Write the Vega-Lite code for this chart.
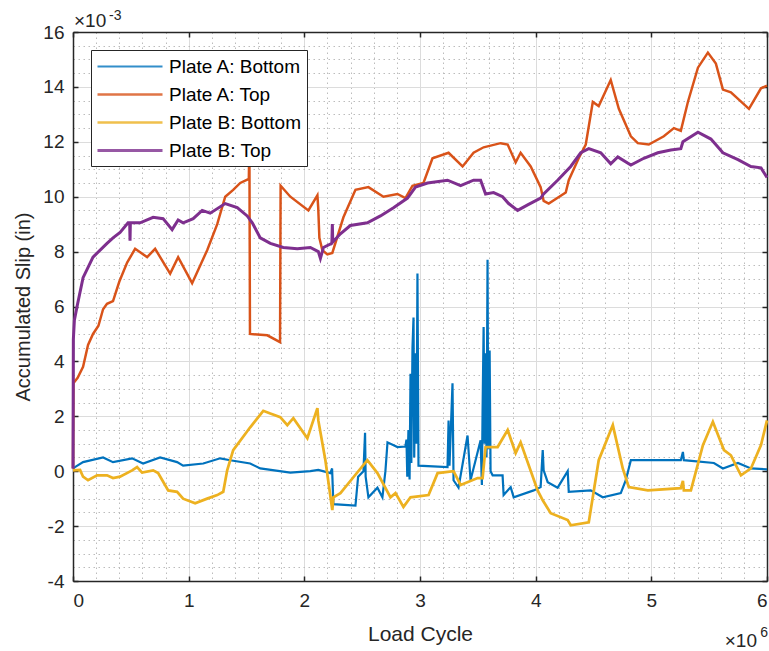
{
  "$schema": "https://vega.github.io/schema/vega-lite/v6.json",
  "width": 694,
  "height": 549,
  "autosize": {"type": "none"},
  "padding": {"left": 73, "top": 32, "right": 2, "bottom": 70},
  "background": "white",
  "config": {
    "view": {"stroke": null},
    "font": "Liberation Sans",
    "axis": {"labelFont": "Liberation Sans", "titleFont": "Liberation Sans", "labelColor": "#262626", "titleColor": "#262626", "titleFontWeight": "normal"}
  },
  "datasets": {
    "slip": [
      {"s": "Plate A: Bottom", "c": 0, "v": 0.1e-3},
      {"s": "Plate A: Bottom", "c": 0.017e6, "v": 0.15e-3},
      {"s": "Plate A: Bottom", "c": 0.087e6, "v": 0.33e-3},
      {"s": "Plate A: Bottom", "c": 0.26e6, "v": 0.5e-3},
      {"s": "Plate A: Bottom", "c": 0.346e6, "v": 0.33e-3},
      {"s": "Plate A: Bottom", "c": 0.511e6, "v": 0.47e-3},
      {"s": "Plate A: Bottom", "c": 0.606e6, "v": 0.28e-3},
      {"s": "Plate A: Bottom", "c": 0.753e6, "v": 0.5e-3},
      {"s": "Plate A: Bottom", "c": 0.9e6, "v": 0.33e-3},
      {"s": "Plate A: Bottom", "c": 0.952e6, "v": 0.2e-3},
      {"s": "Plate A: Bottom", "c": 1.126e6, "v": 0.28e-3},
      {"s": "Plate A: Bottom", "c": 1.273e6, "v": 0.47e-3},
      {"s": "Plate A: Bottom", "c": 1.359e6, "v": 0.4e-3},
      {"s": "Plate A: Bottom", "c": 1.532e6, "v": 0.28e-3},
      {"s": "Plate A: Bottom", "c": 1.619e6, "v": 0.1e-3},
      {"s": "Plate A: Bottom", "c": 1.879e6, "v": -0.05e-3},
      {"s": "Plate A: Bottom", "c": 2.052e6, "v": 0.0},
      {"s": "Plate A: Bottom", "c": 2.121e6, "v": 0.05e-3},
      {"s": "Plate A: Bottom", "c": 2.225e6, "v": -0.07e-3},
      {"s": "Plate A: Bottom", "c": 2.24e6, "v": 0.1e-3},
      {"s": "Plate A: Bottom", "c": 2.251e6, "v": -1.2e-3},
      {"s": "Plate A: Bottom", "c": 2.442e6, "v": -1.25e-3},
      {"s": "Plate A: Bottom", "c": 2.465e6, "v": -0.2e-3},
      {"s": "Plate A: Bottom", "c": 2.511e6, "v": 0.0},
      {"s": "Plate A: Bottom", "c": 2.525e6, "v": 1.4e-3},
      {"s": "Plate A: Bottom", "c": 2.53e6, "v": -0.2e-3},
      {"s": "Plate A: Bottom", "c": 2.554e6, "v": -0.95e-3},
      {"s": "Plate A: Bottom", "c": 2.632e6, "v": -0.6e-3},
      {"s": "Plate A: Bottom", "c": 2.675e6, "v": -0.95e-3},
      {"s": "Plate A: Bottom", "c": 2.701e6, "v": 0.0},
      {"s": "Plate A: Bottom", "c": 2.719e6, "v": 1.05e-3},
      {"s": "Plate A: Bottom", "c": 2.805e6, "v": 0.88e-3},
      {"s": "Plate A: Bottom", "c": 2.874e6, "v": 0.9e-3},
      {"s": "Plate A: Bottom", "c": 2.883e6, "v": 1.15e-3},
      {"s": "Plate A: Bottom", "c": 2.89e6, "v": -0.2e-3},
      {"s": "Plate A: Bottom", "c": 2.9e6, "v": 1.5e-3},
      {"s": "Plate A: Bottom", "c": 2.91e6, "v": -0.3e-3},
      {"s": "Plate A: Bottom", "c": 2.918e6, "v": 3.55e-3},
      {"s": "Plate A: Bottom", "c": 2.925e6, "v": 0.3e-3},
      {"s": "Plate A: Bottom", "c": 2.935e6, "v": 4.5e-3},
      {"s": "Plate A: Bottom", "c": 2.944e6, "v": 5.6e-3},
      {"s": "Plate A: Bottom", "c": 2.95e6, "v": 0.5e-3},
      {"s": "Plate A: Bottom", "c": 2.961e6, "v": 4.3e-3},
      {"s": "Plate A: Bottom", "c": 2.97e6, "v": 1.0e-3},
      {"s": "Plate A: Bottom", "c": 2.978e6, "v": 7.2e-3},
      {"s": "Plate A: Bottom", "c": 2.987e6, "v": 0.2e-3},
      {"s": "Plate A: Bottom", "c": 3.238e6, "v": 0.15e-3},
      {"s": "Plate A: Bottom", "c": 3.247e6, "v": 1.85e-3},
      {"s": "Plate A: Bottom", "c": 3.255e6, "v": 0.2e-3},
      {"s": "Plate A: Bottom", "c": 3.281e6, "v": 3.2e-3},
      {"s": "Plate A: Bottom", "c": 3.29e6, "v": -0.33e-3},
      {"s": "Plate A: Bottom", "c": 3.333e6, "v": -0.6e-3},
      {"s": "Plate A: Bottom", "c": 3.411e6, "v": 1.3e-3},
      {"s": "Plate A: Bottom", "c": 3.437e6, "v": -0.33e-3},
      {"s": "Plate A: Bottom", "c": 3.524e6, "v": 1.13e-3},
      {"s": "Plate A: Bottom", "c": 3.535e6, "v": -0.5e-3},
      {"s": "Plate A: Bottom", "c": 3.541e6, "v": 2.2e-3},
      {"s": "Plate A: Bottom", "c": 3.55e6, "v": 5.25e-3},
      {"s": "Plate A: Bottom", "c": 3.558e6, "v": 1.0e-3},
      {"s": "Plate A: Bottom", "c": 3.567e6, "v": 4.3e-3},
      {"s": "Plate A: Bottom", "c": 3.575e6, "v": 0.5e-3},
      {"s": "Plate A: Bottom", "c": 3.584e6, "v": 7.7e-3},
      {"s": "Plate A: Bottom", "c": 3.59e6, "v": 0.8e-3},
      {"s": "Plate A: Bottom", "c": 3.602e6, "v": 4.4e-3},
      {"s": "Plate A: Bottom", "c": 3.61e6, "v": 0.0},
      {"s": "Plate A: Bottom", "c": 3.628e6, "v": -0.15e-3},
      {"s": "Plate A: Bottom", "c": 3.714e6, "v": -0.15e-3},
      {"s": "Plate A: Bottom", "c": 3.723e6, "v": -0.87e-3},
      {"s": "Plate A: Bottom", "c": 3.784e6, "v": -0.58e-3},
      {"s": "Plate A: Bottom", "c": 3.81e6, "v": -0.95e-3},
      {"s": "Plate A: Bottom", "c": 3.983e6, "v": -0.7e-3},
      {"s": "Plate A: Bottom", "c": 4.043e6, "v": -0.58e-3},
      {"s": "Plate A: Bottom", "c": 4.061e6, "v": 0.77e-3},
      {"s": "Plate A: Bottom", "c": 4.069e6, "v": 0.03e-3},
      {"s": "Plate A: Bottom", "c": 4.104e6, "v": -0.4e-3},
      {"s": "Plate A: Bottom", "c": 4.19e6, "v": -0.6e-3},
      {"s": "Plate A: Bottom", "c": 4.277e6, "v": 0.0},
      {"s": "Plate A: Bottom", "c": 4.286e6, "v": -0.75e-3},
      {"s": "Plate A: Bottom", "c": 4.476e6, "v": -0.7e-3},
      {"s": "Plate A: Bottom", "c": 4.58e6, "v": -0.95e-3},
      {"s": "Plate A: Bottom", "c": 4.736e6, "v": -0.8e-3},
      {"s": "Plate A: Bottom", "c": 4.779e6, "v": -0.33e-3},
      {"s": "Plate A: Bottom", "c": 4.823e6, "v": 0.4e-3},
      {"s": "Plate A: Bottom", "c": 5.255e6, "v": 0.4e-3},
      {"s": "Plate A: Bottom", "c": 5.273e6, "v": 0.7e-3},
      {"s": "Plate A: Bottom", "c": 5.281e6, "v": 0.4e-3},
      {"s": "Plate A: Bottom", "c": 5.541e6, "v": 0.3e-3},
      {"s": "Plate A: Bottom", "c": 5.619e6, "v": 0.1e-3},
      {"s": "Plate A: Bottom", "c": 5.749e6, "v": 0.3e-3},
      {"s": "Plate A: Bottom", "c": 5.861e6, "v": 0.1e-3},
      {"s": "Plate A: Bottom", "c": 6.0e6, "v": 0.07e-3},

      {"s": "Plate A: Top", "c": 0, "v": 0.1e-3},
      {"s": "Plate A: Top", "c": 0.003e6, "v": 3.2e-3},
      {"s": "Plate A: Top", "c": 0.04e6, "v": 3.4e-3},
      {"s": "Plate A: Top", "c": 0.087e6, "v": 3.8e-3},
      {"s": "Plate A: Top", "c": 0.13e6, "v": 4.6e-3},
      {"s": "Plate A: Top", "c": 0.173e6, "v": 5.0e-3},
      {"s": "Plate A: Top", "c": 0.22e6, "v": 5.3e-3},
      {"s": "Plate A: Top", "c": 0.26e6, "v": 5.9e-3},
      {"s": "Plate A: Top", "c": 0.294e6, "v": 6.1e-3},
      {"s": "Plate A: Top", "c": 0.346e6, "v": 6.2e-3},
      {"s": "Plate A: Top", "c": 0.4e6, "v": 6.9e-3},
      {"s": "Plate A: Top", "c": 0.468e6, "v": 7.6e-3},
      {"s": "Plate A: Top", "c": 0.537e6, "v": 8.1e-3},
      {"s": "Plate A: Top", "c": 0.641e6, "v": 7.8e-3},
      {"s": "Plate A: Top", "c": 0.71e6, "v": 8.1e-3},
      {"s": "Plate A: Top", "c": 0.84e6, "v": 7.2e-3},
      {"s": "Plate A: Top", "c": 0.909e6, "v": 7.8e-3},
      {"s": "Plate A: Top", "c": 1.03e6, "v": 6.85e-3},
      {"s": "Plate A: Top", "c": 1.16e6, "v": 8.05e-3},
      {"s": "Plate A: Top", "c": 1.247e6, "v": 9.0e-3},
      {"s": "Plate A: Top", "c": 1.316e6, "v": 10.0e-3},
      {"s": "Plate A: Top", "c": 1.385e6, "v": 10.25e-3},
      {"s": "Plate A: Top", "c": 1.446e6, "v": 10.5e-3},
      {"s": "Plate A: Top", "c": 1.52e6, "v": 10.65e-3},
      {"s": "Plate A: Top", "c": 1.525e6, "v": 12.0e-3},
      {"s": "Plate A: Top", "c": 1.53e6, "v": 5.0e-3},
      {"s": "Plate A: Top", "c": 1.68e6, "v": 4.95e-3},
      {"s": "Plate A: Top", "c": 1.79e6, "v": 4.7e-3},
      {"s": "Plate A: Top", "c": 1.795e6, "v": 10.4e-3},
      {"s": "Plate A: Top", "c": 1.879e6, "v": 10.0e-3},
      {"s": "Plate A: Top", "c": 2.035e6, "v": 9.5e-3},
      {"s": "Plate A: Top", "c": 2.113e6, "v": 10.05e-3},
      {"s": "Plate A: Top", "c": 2.12e6, "v": 9.6e-3},
      {"s": "Plate A: Top", "c": 2.13e6, "v": 8.5e-3},
      {"s": "Plate A: Top", "c": 2.156e6, "v": 8.05e-3},
      {"s": "Plate A: Top", "c": 2.199e6, "v": 7.9e-3},
      {"s": "Plate A: Top", "c": 2.242e6, "v": 7.95e-3},
      {"s": "Plate A: Top", "c": 2.338e6, "v": 9.25e-3},
      {"s": "Plate A: Top", "c": 2.442e6, "v": 10.25e-3},
      {"s": "Plate A: Top", "c": 2.554e6, "v": 10.35e-3},
      {"s": "Plate A: Top", "c": 2.684e6, "v": 10.0e-3},
      {"s": "Plate A: Top", "c": 2.805e6, "v": 10.1e-3},
      {"s": "Plate A: Top", "c": 2.874e6, "v": 9.95e-3},
      {"s": "Plate A: Top", "c": 2.935e6, "v": 10.4e-3},
      {"s": "Plate A: Top", "c": 3.03e6, "v": 10.5e-3},
      {"s": "Plate A: Top", "c": 3.108e6, "v": 11.4e-3},
      {"s": "Plate A: Top", "c": 3.247e6, "v": 11.6e-3},
      {"s": "Plate A: Top", "c": 3.368e6, "v": 11.1e-3},
      {"s": "Plate A: Top", "c": 3.463e6, "v": 11.6e-3},
      {"s": "Plate A: Top", "c": 3.55e6, "v": 11.8e-3},
      {"s": "Plate A: Top", "c": 3.697e6, "v": 11.95e-3},
      {"s": "Plate A: Top", "c": 3.758e6, "v": 11.9e-3},
      {"s": "Plate A: Top", "c": 3.827e6, "v": 11.25e-3},
      {"s": "Plate A: Top", "c": 3.87e6, "v": 11.6e-3},
      {"s": "Plate A: Top", "c": 3.957e6, "v": 11.1e-3},
      {"s": "Plate A: Top", "c": 4.043e6, "v": 10.35e-3},
      {"s": "Plate A: Top", "c": 4.069e6, "v": 9.85e-3},
      {"s": "Plate A: Top", "c": 4.113e6, "v": 9.75e-3},
      {"s": "Plate A: Top", "c": 4.26e6, "v": 10.15e-3},
      {"s": "Plate A: Top", "c": 4.286e6, "v": 10.6e-3},
      {"s": "Plate A: Top", "c": 4.372e6, "v": 11.4e-3},
      {"s": "Plate A: Top", "c": 4.433e6, "v": 11.9e-3},
      {"s": "Plate A: Top", "c": 4.494e6, "v": 13.45e-3},
      {"s": "Plate A: Top", "c": 4.545e6, "v": 13.3e-3},
      {"s": "Plate A: Top", "c": 4.649e6, "v": 14.25e-3},
      {"s": "Plate A: Top", "c": 4.719e6, "v": 13.2e-3},
      {"s": "Plate A: Top", "c": 4.823e6, "v": 12.2e-3},
      {"s": "Plate A: Top", "c": 4.883e6, "v": 11.95e-3},
      {"s": "Plate A: Top", "c": 4.978e6, "v": 11.9e-3},
      {"s": "Plate A: Top", "c": 5.108e6, "v": 12.2e-3},
      {"s": "Plate A: Top", "c": 5.195e6, "v": 12.5e-3},
      {"s": "Plate A: Top", "c": 5.255e6, "v": 12.4e-3},
      {"s": "Plate A: Top", "c": 5.316e6, "v": 13.45e-3},
      {"s": "Plate A: Top", "c": 5.403e6, "v": 14.7e-3},
      {"s": "Plate A: Top", "c": 5.489e6, "v": 15.25e-3},
      {"s": "Plate A: Top", "c": 5.558e6, "v": 14.85e-3},
      {"s": "Plate A: Top", "c": 5.619e6, "v": 13.9e-3},
      {"s": "Plate A: Top", "c": 5.688e6, "v": 13.8e-3},
      {"s": "Plate A: Top", "c": 5.844e6, "v": 13.2e-3},
      {"s": "Plate A: Top", "c": 5.948e6, "v": 13.95e-3},
      {"s": "Plate A: Top", "c": 6.0e6, "v": 14.05e-3},

      {"s": "Plate B: Bottom", "c": 0, "v": 0.03e-3},
      {"s": "Plate B: Bottom", "c": 0.061e6, "v": 0.05e-3},
      {"s": "Plate B: Bottom", "c": 0.087e6, "v": -0.2e-3},
      {"s": "Plate B: Bottom", "c": 0.13e6, "v": -0.33e-3},
      {"s": "Plate B: Bottom", "c": 0.208e6, "v": -0.15e-3},
      {"s": "Plate B: Bottom", "c": 0.294e6, "v": -0.15e-3},
      {"s": "Plate B: Bottom", "c": 0.346e6, "v": -0.25e-3},
      {"s": "Plate B: Bottom", "c": 0.407e6, "v": -0.2e-3},
      {"s": "Plate B: Bottom", "c": 0.511e6, "v": 0.03e-3},
      {"s": "Plate B: Bottom", "c": 0.554e6, "v": 0.15e-3},
      {"s": "Plate B: Bottom", "c": 0.597e6, "v": -0.05e-3},
      {"s": "Plate B: Bottom", "c": 0.693e6, "v": 0.03e-3},
      {"s": "Plate B: Bottom", "c": 0.736e6, "v": -0.07e-3},
      {"s": "Plate B: Bottom", "c": 0.823e6, "v": -0.7e-3},
      {"s": "Plate B: Bottom", "c": 0.9e6, "v": -0.75e-3},
      {"s": "Plate B: Bottom", "c": 0.952e6, "v": -1.0e-3},
      {"s": "Plate B: Bottom", "c": 1.056e6, "v": -1.17e-3},
      {"s": "Plate B: Bottom", "c": 1.16e6, "v": -1.0e-3},
      {"s": "Plate B: Bottom", "c": 1.247e6, "v": -0.87e-3},
      {"s": "Plate B: Bottom", "c": 1.299e6, "v": -0.75e-3},
      {"s": "Plate B: Bottom", "c": 1.333e6, "v": 0.03e-3},
      {"s": "Plate B: Bottom", "c": 1.385e6, "v": 0.77e-3},
      {"s": "Plate B: Bottom", "c": 1.532e6, "v": 1.6e-3},
      {"s": "Plate B: Bottom", "c": 1.645e6, "v": 2.2e-3},
      {"s": "Plate B: Bottom", "c": 1.706e6, "v": 2.1e-3},
      {"s": "Plate B: Bottom", "c": 1.792e6, "v": 1.97e-3},
      {"s": "Plate B: Bottom", "c": 1.853e6, "v": 1.68e-3},
      {"s": "Plate B: Bottom", "c": 1.905e6, "v": 1.93e-3},
      {"s": "Plate B: Bottom", "c": 2.026e6, "v": 1.2e-3},
      {"s": "Plate B: Bottom", "c": 2.113e6, "v": 2.3e-3},
      {"s": "Plate B: Bottom", "c": 2.121e6, "v": 1.85e-3},
      {"s": "Plate B: Bottom", "c": 2.182e6, "v": 0.4e-3},
      {"s": "Plate B: Bottom", "c": 2.242e6, "v": -1.42e-3},
      {"s": "Plate B: Bottom", "c": 2.251e6, "v": -0.95e-3},
      {"s": "Plate B: Bottom", "c": 2.312e6, "v": -0.8e-3},
      {"s": "Plate B: Bottom", "c": 2.424e6, "v": -0.22e-3},
      {"s": "Plate B: Bottom", "c": 2.545e6, "v": 0.4e-3},
      {"s": "Plate B: Bottom", "c": 2.632e6, "v": -0.07e-3},
      {"s": "Plate B: Bottom", "c": 2.745e6, "v": -0.95e-3},
      {"s": "Plate B: Bottom", "c": 2.788e6, "v": -0.8e-3},
      {"s": "Plate B: Bottom", "c": 2.857e6, "v": -1.3e-3},
      {"s": "Plate B: Bottom", "c": 2.918e6, "v": -0.95e-3},
      {"s": "Plate B: Bottom", "c": 3.074e6, "v": -0.87e-3},
      {"s": "Plate B: Bottom", "c": 3.152e6, "v": -0.07e-3},
      {"s": "Plate B: Bottom", "c": 3.29e6, "v": 0.0},
      {"s": "Plate B: Bottom", "c": 3.351e6, "v": -0.5e-3},
      {"s": "Plate B: Bottom", "c": 3.498e6, "v": -0.25e-3},
      {"s": "Plate B: Bottom", "c": 3.541e6, "v": -0.25e-3},
      {"s": "Plate B: Bottom", "c": 3.567e6, "v": 0.88e-3},
      {"s": "Plate B: Bottom", "c": 3.671e6, "v": 0.88e-3},
      {"s": "Plate B: Bottom", "c": 3.758e6, "v": 1.5e-3},
      {"s": "Plate B: Bottom", "c": 3.827e6, "v": 0.66e-3},
      {"s": "Plate B: Bottom", "c": 3.87e6, "v": 1.05e-3},
      {"s": "Plate B: Bottom", "c": 4.017e6, "v": -0.7e-3},
      {"s": "Plate B: Bottom", "c": 4.061e6, "v": -1.06e-3},
      {"s": "Plate B: Bottom", "c": 4.13e6, "v": -1.53e-3},
      {"s": "Plate B: Bottom", "c": 4.277e6, "v": -1.78e-3},
      {"s": "Plate B: Bottom", "c": 4.303e6, "v": -1.97e-3},
      {"s": "Plate B: Bottom", "c": 4.459e6, "v": -1.86e-3},
      {"s": "Plate B: Bottom", "c": 4.545e6, "v": 0.4e-3},
      {"s": "Plate B: Bottom", "c": 4.667e6, "v": 1.68e-3},
      {"s": "Plate B: Bottom", "c": 4.753e6, "v": 0.1e-3},
      {"s": "Plate B: Bottom", "c": 4.805e6, "v": -0.58e-3},
      {"s": "Plate B: Bottom", "c": 4.97e6, "v": -0.7e-3},
      {"s": "Plate B: Bottom", "c": 5.255e6, "v": -0.62e-3},
      {"s": "Plate B: Bottom", "c": 5.273e6, "v": -0.35e-3},
      {"s": "Plate B: Bottom", "c": 5.281e6, "v": -0.7e-3},
      {"s": "Plate B: Bottom", "c": 5.342e6, "v": -0.7e-3},
      {"s": "Plate B: Bottom", "c": 5.446e6, "v": 0.95e-3},
      {"s": "Plate B: Bottom", "c": 5.532e6, "v": 1.8e-3},
      {"s": "Plate B: Bottom", "c": 5.628e6, "v": 0.77e-3},
      {"s": "Plate B: Bottom", "c": 5.688e6, "v": 0.58e-3},
      {"s": "Plate B: Bottom", "c": 5.775e6, "v": -0.15e-3},
      {"s": "Plate B: Bottom", "c": 5.861e6, "v": 0.1e-3},
      {"s": "Plate B: Bottom", "c": 5.948e6, "v": 0.95e-3},
      {"s": "Plate B: Bottom", "c": 6.0e6, "v": 1.85e-3},

      {"s": "Plate B: Top", "c": 0, "v": 0.1e-3},
      {"s": "Plate B: Top", "c": 0.003e6, "v": 4.8e-3},
      {"s": "Plate B: Top", "c": 0.012e6, "v": 5.5e-3},
      {"s": "Plate B: Top", "c": 0.035e6, "v": 6.0e-3},
      {"s": "Plate B: Top", "c": 0.087e6, "v": 7.05e-3},
      {"s": "Plate B: Top", "c": 0.173e6, "v": 7.8e-3},
      {"s": "Plate B: Top", "c": 0.294e6, "v": 8.3e-3},
      {"s": "Plate B: Top", "c": 0.346e6, "v": 8.5e-3},
      {"s": "Plate B: Top", "c": 0.407e6, "v": 8.7e-3},
      {"s": "Plate B: Top", "c": 0.476e6, "v": 9.05e-3},
      {"s": "Plate B: Top", "c": 0.49e6, "v": 9.05e-3},
      {"s": "Plate B: Top", "c": 0.493e6, "v": 8.4e-3},
      {"s": "Plate B: Top", "c": 0.496e6, "v": 9.05e-3},
      {"s": "Plate B: Top", "c": 0.58e6, "v": 9.05e-3},
      {"s": "Plate B: Top", "c": 0.693e6, "v": 9.25e-3},
      {"s": "Plate B: Top", "c": 0.779e6, "v": 9.2e-3},
      {"s": "Plate B: Top", "c": 0.857e6, "v": 8.8e-3},
      {"s": "Plate B: Top", "c": 0.909e6, "v": 9.15e-3},
      {"s": "Plate B: Top", "c": 0.952e6, "v": 9.05e-3},
      {"s": "Plate B: Top", "c": 1.039e6, "v": 9.2e-3},
      {"s": "Plate B: Top", "c": 1.117e6, "v": 9.5e-3},
      {"s": "Plate B: Top", "c": 1.186e6, "v": 9.4e-3},
      {"s": "Plate B: Top", "c": 1.316e6, "v": 9.75e-3},
      {"s": "Plate B: Top", "c": 1.42e6, "v": 9.6e-3},
      {"s": "Plate B: Top", "c": 1.506e6, "v": 9.3e-3},
      {"s": "Plate B: Top", "c": 1.55e6, "v": 9.05e-3},
      {"s": "Plate B: Top", "c": 1.619e6, "v": 8.5e-3},
      {"s": "Plate B: Top", "c": 1.706e6, "v": 8.3e-3},
      {"s": "Plate B: Top", "c": 1.818e6, "v": 8.15e-3},
      {"s": "Plate B: Top", "c": 1.939e6, "v": 8.1e-3},
      {"s": "Plate B: Top", "c": 2.052e6, "v": 8.15e-3},
      {"s": "Plate B: Top", "c": 2.121e6, "v": 8.0e-3},
      {"s": "Plate B: Top", "c": 2.139e6, "v": 7.75e-3},
      {"s": "Plate B: Top", "c": 2.165e6, "v": 8.15e-3},
      {"s": "Plate B: Top", "c": 2.238e6, "v": 8.3e-3},
      {"s": "Plate B: Top", "c": 2.242e6, "v": 9.0e-3},
      {"s": "Plate B: Top", "c": 2.246e6, "v": 8.35e-3},
      {"s": "Plate B: Top", "c": 2.312e6, "v": 8.65e-3},
      {"s": "Plate B: Top", "c": 2.398e6, "v": 8.95e-3},
      {"s": "Plate B: Top", "c": 2.545e6, "v": 9.05e-3},
      {"s": "Plate B: Top", "c": 2.658e6, "v": 9.3e-3},
      {"s": "Plate B: Top", "c": 2.771e6, "v": 9.6e-3},
      {"s": "Plate B: Top", "c": 2.892e6, "v": 9.95e-3},
      {"s": "Plate B: Top", "c": 2.961e6, "v": 10.35e-3},
      {"s": "Plate B: Top", "c": 3.065e6, "v": 10.5e-3},
      {"s": "Plate B: Top", "c": 3.238e6, "v": 10.6e-3},
      {"s": "Plate B: Top", "c": 3.351e6, "v": 10.4e-3},
      {"s": "Plate B: Top", "c": 3.463e6, "v": 10.6e-3},
      {"s": "Plate B: Top", "c": 3.524e6, "v": 10.6e-3},
      {"s": "Plate B: Top", "c": 3.567e6, "v": 10.1e-3},
      {"s": "Plate B: Top", "c": 3.636e6, "v": 10.15e-3},
      {"s": "Plate B: Top", "c": 3.714e6, "v": 10.0e-3},
      {"s": "Plate B: Top", "c": 3.766e6, "v": 9.75e-3},
      {"s": "Plate B: Top", "c": 3.844e6, "v": 9.5e-3},
      {"s": "Plate B: Top", "c": 3.931e6, "v": 9.7e-3},
      {"s": "Plate B: Top", "c": 4.043e6, "v": 9.95e-3},
      {"s": "Plate B: Top", "c": 4.069e6, "v": 10.1e-3},
      {"s": "Plate B: Top", "c": 4.19e6, "v": 10.6e-3},
      {"s": "Plate B: Top", "c": 4.303e6, "v": 11.1e-3},
      {"s": "Plate B: Top", "c": 4.39e6, "v": 11.6e-3},
      {"s": "Plate B: Top", "c": 4.459e6, "v": 11.75e-3},
      {"s": "Plate B: Top", "c": 4.563e6, "v": 11.6e-3},
      {"s": "Plate B: Top", "c": 4.649e6, "v": 11.2e-3},
      {"s": "Plate B: Top", "c": 4.71e6, "v": 11.45e-3},
      {"s": "Plate B: Top", "c": 4.823e6, "v": 11.15e-3},
      {"s": "Plate B: Top", "c": 4.935e6, "v": 11.4e-3},
      {"s": "Plate B: Top", "c": 5.056e6, "v": 11.6e-3},
      {"s": "Plate B: Top", "c": 5.169e6, "v": 11.7e-3},
      {"s": "Plate B: Top", "c": 5.255e6, "v": 11.75e-3},
      {"s": "Plate B: Top", "c": 5.273e6, "v": 12.0e-3},
      {"s": "Plate B: Top", "c": 5.403e6, "v": 12.35e-3},
      {"s": "Plate B: Top", "c": 5.515e6, "v": 12.1e-3},
      {"s": "Plate B: Top", "c": 5.619e6, "v": 11.6e-3},
      {"s": "Plate B: Top", "c": 5.749e6, "v": 11.35e-3},
      {"s": "Plate B: Top", "c": 5.861e6, "v": 11.1e-3},
      {"s": "Plate B: Top", "c": 5.948e6, "v": 11.05e-3},
      {"s": "Plate B: Top", "c": 6.0e6, "v": 10.7e-3}
    ]
  },
  "resolve": {"axis": {"x": "independent", "y": "independent"}},
  "layer": [
    {
      "data": {"values": [{"c": 0, "v": 0}]},
      "mark": {"type": "point", "opacity": 0},
      "encoding": {
        "x": {"field": "c", "type": "quantitative", "scale": {"domain": [0, 6000000], "nice": false, "zero": false},
          "axis": {"orient": "bottom", "title": null, "labels": false, "ticks": false, "domain": false, "grid": true,
            "values": [200000, 400000, 600000, 800000, 1200000, 1400000, 1600000, 1800000, 2200000, 2400000, 2600000, 2800000, 3200000, 3400000, 3600000, 3800000, 4200000, 4400000, 4600000, 4800000, 5200000, 5400000, 5600000, 5800000],
            "gridColor": "#bcbcbc", "gridDash": [1.5, 3.5], "gridWidth": 1}},
        "y": {"field": "v", "type": "quantitative", "scale": {"domain": [-0.004, 0.016], "nice": false, "zero": false},
          "axis": {"orient": "left", "title": null, "labels": false, "ticks": false, "domain": false, "grid": true,
            "values": [-0.0035, -0.003, -0.0025, -0.0015, -0.001, -0.0005, 0.0005, 0.001, 0.0015, 0.0025, 0.003, 0.0035, 0.0045, 0.005, 0.0055, 0.0065, 0.007, 0.0075, 0.0085, 0.009, 0.0095, 0.0105, 0.011, 0.0115, 0.0125, 0.013, 0.0135, 0.0145, 0.015, 0.0155],
            "gridColor": "#bcbcbc", "gridDash": [1.5, 3.5], "gridWidth": 1}}
      }
    },
    {
      "data": {"values": [{"c": 0, "v": 0}]},
      "mark": {"type": "point", "opacity": 0},
      "encoding": {
        "x": {"field": "c", "type": "quantitative", "scale": {"domain": [0, 6000000], "nice": false, "zero": false},
          "axis": {"orient": "top", "title": null, "labels": false, "grid": false, "ticks": true, "tickSize": -5, "tickColor": "#262626", "tickWidth": 1.5,
            "domain": true, "domainColor": "#262626", "domainWidth": 1.5,
            "values": [0, 1000000, 2000000, 3000000, 4000000, 5000000, 6000000]}},
        "y": {"field": "v", "type": "quantitative", "scale": {"domain": [-0.004, 0.016], "nice": false, "zero": false},
          "axis": {"orient": "right", "title": null, "labels": false, "grid": false, "ticks": true, "tickSize": -5, "tickColor": "#262626", "tickWidth": 1.5,
            "domain": true, "domainColor": "#262626", "domainWidth": 1.5,
            "values": [-0.004, -0.002, 0, 0.002, 0.004, 0.006, 0.008, 0.01, 0.012, 0.014, 0.016]}}
      }
    },
    {
      "data": {"name": "slip"},
      "mark": {"type": "line", "interpolate": "linear"},
      "encoding": {
        "x": {"field": "c", "type": "quantitative", "scale": {"domain": [0, 6000000], "nice": false, "zero": false},
          "axis": {"orient": "bottom", "title": "Load Cycle", "titleFontSize": 21, "titlePadding": 13,
            "labelFontSize": 19, "labelPadding": 15, "labelExpr": "'' + round(datum.value / 1000000)",
            "grid": true, "gridColor": "#dcdcdc", "gridWidth": 1,
            "ticks": true, "tickSize": -5, "tickColor": "#262626", "tickWidth": 1.5,
            "domain": true, "domainColor": "#262626", "domainWidth": 1.5,
            "values": [0, 1000000, 2000000, 3000000, 4000000, 5000000, 6000000]}},
        "y": {"field": "v", "type": "quantitative", "scale": {"domain": [-0.004, 0.016], "nice": false, "zero": false},
          "axis": {"orient": "left", "title": "Accumulated Slip (in)", "titleFontSize": 20, "titlePadding": 9,
            "labelFontSize": 19, "labelPadding": 14, "labelExpr": "'' + round(datum.value * 1000)",
            "grid": true, "gridColor": "#dcdcdc", "gridWidth": 1,
            "ticks": true, "tickSize": -5, "tickColor": "#262626", "tickWidth": 1.5,
            "domain": true, "domainColor": "#262626", "domainWidth": 1.5,
            "values": [-0.004, -0.002, 0, 0.002, 0.004, 0.006, 0.008, 0.01, 0.012, 0.014, 0.016]}},
        "color": {"field": "s", "type": "nominal",
          "scale": {"domain": ["Plate A: Bottom", "Plate A: Top", "Plate B: Bottom", "Plate B: Top"], "range": ["#0072BD", "#D95319", "#EDB120", "#7E2F8E"]},
          "legend": {"title": null, "orient": "top-left", "offset": 18, "fillColor": "white", "strokeColor": "#262626",
            "padding": 5, "symbolType": "M-1,0H5.5", "symbolSize": 400, "symbolStrokeWidth": 1.5, "symbolOpacity": 0.8,
            "labelFontSize": 19, "labelColor": "#000000", "labelFont": "Liberation Sans", "labelOffset": 50, "rowPadding": 6}},
        "strokeWidth": {"field": "s", "type": "nominal",
          "scale": {"domain": ["Plate A: Bottom", "Plate A: Top", "Plate B: Bottom", "Plate B: Top"], "range": [2.2, 3, 2.6, 3.8]},
          "legend": null}
      }
    },
    {
      "data": {"values": [{"c": 0, "v": 0.016, "t": "×10"}]},
      "mark": {"type": "text", "align": "left", "baseline": "alphabetic", "fontSize": 19, "dx": 1, "dy": -5, "color": "#262626"},
      "encoding": {
        "x": {"field": "c", "type": "quantitative", "axis": null},
        "y": {"field": "v", "type": "quantitative", "axis": null},
        "text": {"field": "t"}
      }
    },
    {
      "data": {"values": [{"c": 0, "v": 0.016, "t": "-3"}]},
      "mark": {"type": "text", "align": "left", "baseline": "alphabetic", "fontSize": 14, "dx": 36, "dy": -12, "color": "#262626"},
      "encoding": {
        "x": {"field": "c", "type": "quantitative", "axis": null},
        "y": {"field": "v", "type": "quantitative", "axis": null},
        "text": {"field": "t"}
      }
    },
    {
      "data": {"values": [{"c": 6000000, "v": -0.004, "t": "×10"}]},
      "mark": {"type": "text", "align": "right", "baseline": "alphabetic", "fontSize": 19, "dx": -10, "dy": 66, "color": "#262626"},
      "encoding": {
        "x": {"field": "c", "type": "quantitative", "axis": null},
        "y": {"field": "v", "type": "quantitative", "axis": null},
        "text": {"field": "t"}
      }
    },
    {
      "data": {"values": [{"c": 6000000, "v": -0.004, "t": "6"}]},
      "mark": {"type": "text", "align": "right", "baseline": "alphabetic", "fontSize": 14, "dx": 1, "dy": 56, "color": "#262626"},
      "encoding": {
        "x": {"field": "c", "type": "quantitative", "axis": null},
        "y": {"field": "v", "type": "quantitative", "axis": null},
        "text": {"field": "t"}
      }
    }
  ]
}
